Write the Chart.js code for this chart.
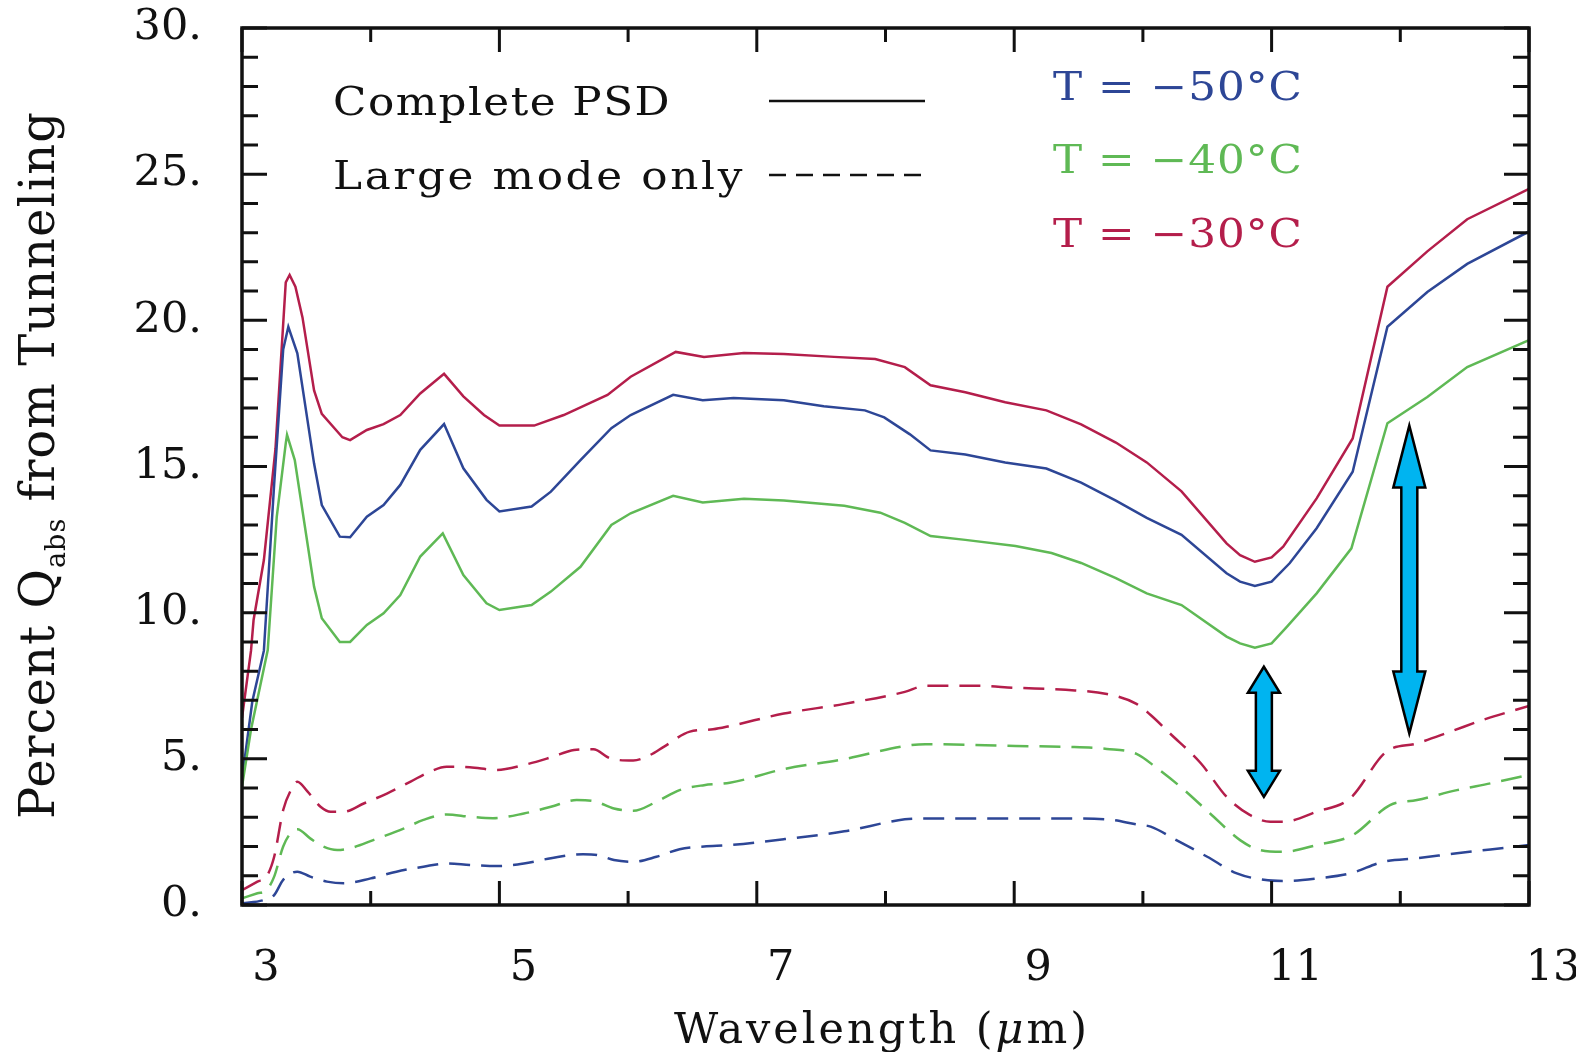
<!DOCTYPE html>
<html>
<head>
<meta charset="utf-8">
<script src="https://cdn.jsdelivr.net/npm/chart.js@4.4.1/dist/chart.umd.min.js"></script>
<style>
  body { margin: 0; background: #fff; }
  #wrap { width: 1576px; height: 1052px; }
</style>
</head>
<body>
<div id="wrap"><canvas id="c"></canvas></div>
<script>
// values: wavelength (um) -> percent Qabs from tunneling
const redSolidX   = [3.0, 3.07, 3.09, 3.17, 3.26, 3.34, 3.37, 3.415, 3.47, 3.56, 3.62, 3.78, 3.84, 3.97, 4.1, 4.23, 4.385, 4.57, 4.72, 4.88, 5.0, 5.27, 5.5, 5.84, 6.02, 6.37, 6.59, 6.9, 7.21, 7.6, 7.92, 8.15, 8.35, 8.62, 8.93, 9.25, 9.52, 9.79, 10.03, 10.3, 10.65, 10.755, 10.87, 11.0, 11.09, 11.35, 11.63, 11.9, 12.21, 12.52, 13.0];
const redSolidY   = [6.4, 8.7, 9.75, 11.8, 15.6, 21.3, 21.55, 21.15, 20.1, 17.6, 16.8, 16.0, 15.9, 16.25, 16.45, 16.76, 17.5, 18.17, 17.4, 16.76, 16.4, 16.4, 16.76, 17.45, 18.07, 18.92, 18.75, 18.88, 18.85, 18.75, 18.68, 18.4, 17.78, 17.54, 17.2, 16.92, 16.44, 15.82, 15.14, 14.15, 12.37, 11.97, 11.74, 11.89, 12.26, 13.91, 15.96, 21.15, 22.36, 23.46, 24.5];

const blueSolidX  = [3.0, 3.08, 3.17, 3.25, 3.32, 3.36, 3.43, 3.56, 3.62, 3.76, 3.84, 3.97, 4.1, 4.23, 4.385, 4.57, 4.72, 4.9, 5.0, 5.25, 5.4, 5.63, 5.87, 6.02, 6.35, 6.58, 6.82, 7.21, 7.52, 7.84, 7.99, 8.19, 8.35, 8.62, 8.93, 9.25, 9.52, 9.79, 10.03, 10.3, 10.65, 10.755, 10.87, 11.0, 11.14, 11.35, 11.63, 11.9, 12.21, 12.52, 13.0];
const blueSolidY  = [4.3, 6.96, 8.7, 14.4, 19.0, 19.78, 18.87, 15.1, 13.68, 12.6, 12.58, 13.28, 13.68, 14.37, 15.57, 16.45, 14.94, 13.86, 13.46, 13.63, 14.14, 15.22, 16.31, 16.76, 17.45, 17.27, 17.34, 17.27, 17.06, 16.92, 16.68, 16.1, 15.55, 15.41, 15.14, 14.93, 14.45, 13.83, 13.24, 12.66, 11.35, 11.06, 10.91, 11.06, 11.69, 12.89, 14.82, 19.78, 20.97, 21.93, 23.04];

const greenSolidX = [3.0, 3.07, 3.2, 3.27, 3.34, 3.35, 3.41, 3.56, 3.62, 3.76, 3.84, 3.97, 4.1, 4.23, 4.385, 4.56, 4.72, 4.9, 5.0, 5.25, 5.4, 5.63, 5.87, 6.02, 6.35, 6.58, 6.9, 7.21, 7.68, 7.96, 8.15, 8.35, 8.62, 9.01, 9.29, 9.52, 9.79, 10.03, 10.3, 10.65, 10.755, 10.87, 11.0, 11.12, 11.35, 11.62, 11.9, 12.21, 12.52, 13.0];
const greenSolidY = [4.05, 6.0, 8.72, 13.28, 15.79, 16.08, 15.22, 10.89, 9.81, 9.0, 9.0, 9.58, 9.98, 10.6, 11.92, 12.71, 11.29, 10.32, 10.09, 10.26, 10.72, 11.57, 13.0, 13.4, 14.0, 13.77, 13.9, 13.84, 13.66, 13.42, 13.07, 12.62, 12.49, 12.28, 12.04, 11.7, 11.18, 10.66, 10.26, 9.18, 8.95, 8.8, 8.95, 9.52, 10.66, 12.2, 16.48, 17.38, 18.4, 19.32];

const redDashX    = [3.0, 3.12, 3.19, 3.25, 3.32, 3.38, 3.43, 3.51, 3.61, 3.69, 3.79, 3.95, 4.13, 4.31, 4.46, 4.59, 4.77, 4.98, 5.19, 5.4, 5.58, 5.73, 5.86, 6.04, 6.17, 6.28, 6.48, 6.66, 6.79, 7.21, 7.68, 8.15, 8.31, 8.7, 9.01, 9.4, 9.72, 9.95, 10.06, 10.21, 10.45, 10.65, 10.83, 10.99, 11.09, 11.35, 11.61, 11.89, 12.13, 12.39, 12.64, 13.0];
const redDashY    = [0.51, 0.8, 0.97, 1.65, 3.25, 3.93, 4.22, 3.88, 3.36, 3.19, 3.19, 3.48, 3.82, 4.22, 4.56, 4.73, 4.71, 4.62, 4.79, 5.05, 5.3, 5.33, 5.02, 4.94, 5.13, 5.42, 5.93, 6.01, 6.12, 6.55, 6.88, 7.29, 7.5, 7.5, 7.43, 7.36, 7.22, 6.88, 6.5, 5.87, 4.85, 3.7, 3.08, 2.85, 2.85, 3.19, 3.65, 5.24, 5.53, 5.93, 6.33, 6.81];

const greenDashX  = [3.0, 3.12, 3.19, 3.25, 3.32, 3.38, 3.43, 3.53, 3.63, 3.74, 3.84, 4.02, 4.26, 4.41, 4.59, 4.77, 4.95, 5.19, 5.4, 5.6, 5.73, 5.89, 6.04, 6.22, 6.4, 6.59, 6.79, 7.21, 7.68, 8.15, 8.31, 9.01, 9.4, 9.72, 9.95, 10.11, 10.29, 10.52, 10.755, 10.91, 11.09, 11.35, 11.63, 11.92, 12.13, 12.44, 12.7, 13.0];
const greenDashY  = [0.23, 0.4, 0.51, 0.97, 2.0, 2.47, 2.59, 2.28, 2.0, 1.88, 1.94, 2.22, 2.62, 2.91, 3.1, 3.02, 2.97, 3.13, 3.36, 3.59, 3.56, 3.3, 3.22, 3.53, 3.93, 4.1, 4.18, 4.65, 4.99, 5.44, 5.5, 5.44, 5.41, 5.34, 5.17, 4.68, 4.05, 3.14, 2.22, 1.88, 1.82, 2.05, 2.39, 3.42, 3.59, 3.93, 4.16, 4.45];

const blueDashX   = [3.0, 3.17, 3.25, 3.32, 3.43, 3.53, 3.66, 3.79, 4.0, 4.2, 4.41, 4.59, 4.77, 4.98, 5.19, 5.4, 5.65, 5.76, 5.89, 6.04, 6.22, 6.4, 6.59, 6.79, 7.21, 7.68, 8.15, 8.31, 9.01, 9.4, 9.72, 9.95, 10.06, 10.26, 10.5, 10.73, 10.94, 11.09, 11.35, 11.61, 11.87, 12.13, 12.44, 12.7, 13.0];
const blueDashY   = [0.06, 0.17, 0.34, 0.86, 1.14, 0.97, 0.8, 0.74, 0.91, 1.14, 1.31, 1.42, 1.37, 1.33, 1.42, 1.6, 1.74, 1.71, 1.54, 1.48, 1.65, 1.91, 2.0, 2.05, 2.25, 2.52, 2.93, 2.96, 2.96, 2.96, 2.93, 2.76, 2.68, 2.22, 1.65, 1.08, 0.86, 0.82, 0.91, 1.08, 1.48, 1.6, 1.77, 1.9, 2.05];

// double arrows (wavelength, top value, bottom value)
const arrowX      = [10.94, 12.07];
const arrowTop    = [8.15, 16.4];
const arrowBottom = [3.7, 5.87];

const tempLabels  = ['T = \u221250\u00b0C', 'T = \u221240\u00b0C', 'T = \u221230\u00b0C'];

const RED = '#b41e4b', BLUE = '#2d4696', GREEN = '#5fb955';
const SERIF = '"DejaVu Serif", "Liberation Serif", serif';

function pts(xs, ys) {
  return xs.map((x, i) => ({ x: x, y: ys[i] }));
}

function solid(data, color) {
  return { data: data, borderColor: color, borderWidth: 2.5, pointRadius: 0, showLine: true, tension: 0 };
}
function dashed(data, color) {
  return { data: data, borderColor: color, borderWidth: 2.5, pointRadius: 0, showLine: true,
           borderDash: [21, 11], cubicInterpolationMode: 'monotone' };
}

// draw text widened horizontally, then letter-spaced to reach the width
function wide(ctx, text, x, y, width, stretch) {
  ctx.save();
  ctx.letterSpacing = '0px';
  const w = ctx.measureText(text).width * stretch;
  ctx.translate(x, y);
  ctx.scale(stretch, 1);
  ctx.letterSpacing = ((width - w) / text.length / stretch) + 'px';
  ctx.fillText(text, 0, 0);
  ctx.restore();
}

const frame = {
  id: 'frame',
  afterDraw(chart) {
    const { ctx, chartArea: a, scales: { x, y } } = chart;
    ctx.save();
    ctx.strokeStyle = '#111';
    ctx.lineWidth = 3;
    ctx.beginPath();
    for (let v = 3; v <= 13; v++) {
      const px = x.getPixelForValue(v);
      const len = v % 2 ? 24 : 14;
      ctx.moveTo(px, a.bottom); ctx.lineTo(px, a.bottom - len);
      ctx.moveTo(px, a.top); ctx.lineTo(px, a.top + len);
    }
    for (let v = 0; v <= 30; v++) {
      const py = y.getPixelForValue(v);
      const len = v % 5 === 0 ? 25 : 16;
      ctx.moveTo(a.left, py); ctx.lineTo(a.left + len, py);
      ctx.moveTo(a.right, py); ctx.lineTo(a.right - len, py);
    }
    ctx.stroke();
    ctx.lineWidth = 3.5;
    ctx.strokeRect(a.left, a.top, a.right - a.left, a.bottom - a.top);

    // double arrows
    ctx.fillStyle = '#00b4f0';
    ctx.strokeStyle = '#000';
    ctx.lineWidth = 2.5;
    ctx.lineJoin = 'miter';
    arrowX.forEach((v, i) => {
      const cx = x.getPixelForValue(v);
      const t = y.getPixelForValue(arrowTop[i]);
      const b = y.getPixelForValue(arrowBottom[i]);
      const head = i === 0 ? 26 : 62;
      const hw = 16, sw = 8;
      ctx.beginPath();
      ctx.moveTo(cx, t);
      ctx.lineTo(cx + hw, t + head);
      ctx.lineTo(cx + sw, t + head);
      ctx.lineTo(cx + sw, b - head);
      ctx.lineTo(cx + hw, b - head);
      ctx.lineTo(cx, b);
      ctx.lineTo(cx - hw, b - head);
      ctx.lineTo(cx - sw, b - head);
      ctx.lineTo(cx - sw, t + head);
      ctx.lineTo(cx - hw, t + head);
      ctx.closePath();
      ctx.fill();
      ctx.stroke();
    });

    // legend block
    ctx.textBaseline = 'alphabetic';
    ctx.textAlign = 'left';
    ctx.fillStyle = '#111';
    ctx.font = '39px ' + SERIF;
    wide(ctx, 'Complete PSD', 333, 115, 338, 1.12);
    wide(ctx, 'Large mode only', 333, 189, 412, 1.12);
    ctx.strokeStyle = '#111';
    ctx.lineWidth = 2.5;
    ctx.beginPath();
    ctx.moveTo(769, 101); ctx.lineTo(925, 101);
    ctx.stroke();
    ctx.setLineDash([17, 10]);
    ctx.beginPath();
    ctx.moveTo(769, 175); ctx.lineTo(923, 175);
    ctx.stroke();
    ctx.setLineDash([]);

    const tColors = [BLUE, GREEN, RED];
    const tY = [100, 173, 247];
    tempLabels.forEach((s, i) => {
      ctx.fillStyle = tColors[i];
      wide(ctx, s, 1053, tY[i], 250, 1.12);
    });

    // x title
    ctx.fillStyle = '#111';
    ctx.font = '43px ' + SERIF;
    const p1 = 'Wavelength (', p3 = 'm)';
    ctx.letterSpacing = '3px';
    const w1 = ctx.measureText(p1).width;
    ctx.font = 'italic 43px ' + SERIF;
    const w2 = ctx.measureText('\u03bc').width;
    ctx.font = '43px ' + SERIF;
    const w3 = ctx.measureText(p3).width;
    let sx = 882 - (w1 + w2 + w3) / 2;
    ctx.fillText(p1, sx, 1043);
    ctx.font = 'italic 43px ' + SERIF;
    ctx.fillText('\u03bc', sx + w1, 1043);
    ctx.font = '43px ' + SERIF;
    ctx.fillText(p3, sx + w1 + w2, 1043);
    ctx.letterSpacing = '0px';

    // y title with subscript
    ctx.translate(54, 819);
    ctx.rotate(-Math.PI / 2);
    const big = '48px ' + SERIF, small = '27px ' + SERIF;
    const parts = [['Percent Q', big, 0], ['abs', small, 11], [' from Tunneling', big, 0]];
    let natural = 0, chars = 0;
    parts.forEach(p => { ctx.font = p[1]; natural += ctx.measureText(p[0]).width; chars += p[0].length; });
    const extra = (708 - natural) / chars;
    ctx.letterSpacing = extra + 'px';
    let lx = 0;
    parts.forEach(p => {
      ctx.font = p[1];
      ctx.fillText(p[0], lx, p[2]);
      lx += ctx.measureText(p[0]).width;
    });
    ctx.restore();
  }
};

new Chart(document.getElementById('c'), {
  type: 'scatter',
  data: {
    datasets: [
      dashed(pts(blueDashX, blueDashY), BLUE),
      dashed(pts(greenDashX, greenDashY), GREEN),
      dashed(pts(redDashX, redDashY), RED),
      solid(pts(greenSolidX, greenSolidY), GREEN),
      solid(pts(blueSolidX, blueSolidY), BLUE),
      solid(pts(redSolidX, redSolidY), RED)
    ]
  },
  options: {
    responsive: true,
    maintainAspectRatio: false,
    animation: false,
    layout: { padding: { left: 0, top: 28, right: 47, bottom: 0 } },
    plugins: { legend: { display: false }, tooltip: { enabled: false } },
    scales: {
      x: {
        type: 'linear', min: 3, max: 13,
        afterFit(s) { s.height = 147; s.paddingLeft = 0; s.paddingRight = 0; },
        grid: { display: false, drawTicks: false },
        border: { display: false },
        ticks: {
          stepSize: 1, autoSkip: false, maxRotation: 0, padding: 38, labelOffset: 24,
          color: '#111', font: { family: SERIF, size: 43 },
          callback: v => (v % 2 === 1 ? String(v) : '')
        }
      },
      y: {
        min: 0, max: 30,
        afterFit(s) { s.width = 242; s.paddingTop = 0; s.paddingBottom = 0; },
        grid: { display: false, drawTicks: false },
        border: { display: false },
        ticks: {
          stepSize: 1, autoSkip: false, padding: 40,
          color: '#111', font: { family: SERIF, size: 43 },
          callback: v => (v % 5 === 0 ? v + '.' : '')
        }
      }
    }
  },
  plugins: [frame]
});
</script>
</body>
</html>
